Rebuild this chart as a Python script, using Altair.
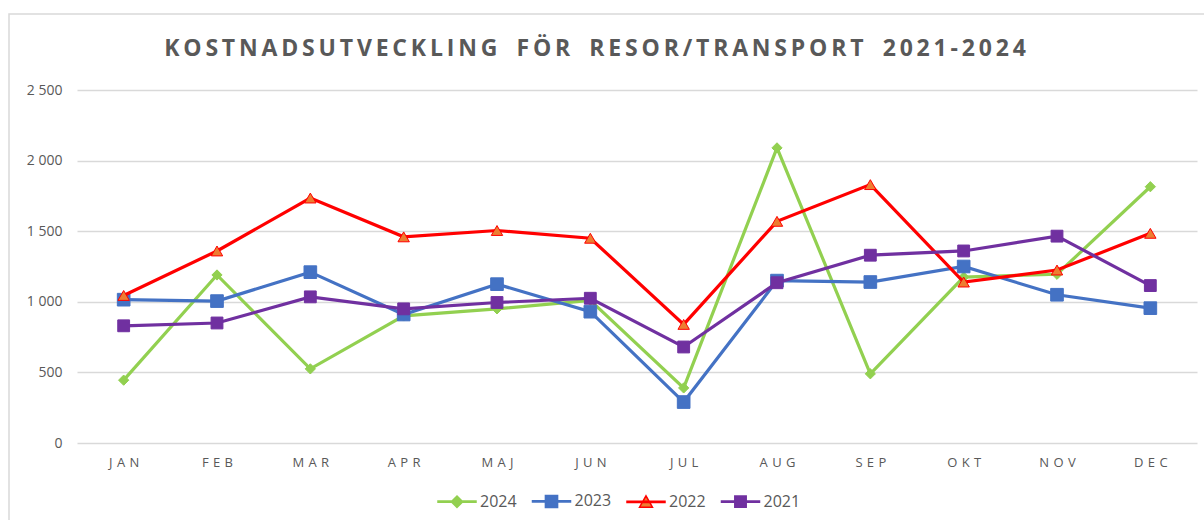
import altair as alt
import pandas as pd

# Monthly travel/transport costs per year
months = ["JAN", "FEB", "MAR", "APR", "MAJ", "JUN", "JUL", "AUG", "SEP", "OKT", "NOV", "DEC"]
years = ["2024", "2023", "2022", "2021"]
v2024 = [445, 1190, 525, 900, 950, 1010, 390, 2090, 490, 1175, 1195, 1815]
v2023 = [1015, 1005, 1210, 910, 1125, 930, 290, 1150, 1140, 1250, 1050, 955]
v2022 = [1045, 1360, 1735, 1460, 1505, 1450, 840, 1570, 1830, 1140, 1225, 1485]
v2021 = [830, 850, 1035, 950, 995, 1025, 680, 1135, 1330, 1360, 1465, 1115]

series = {"2024": v2024, "2023": v2023, "2022": v2022, "2021": v2021}
rows = [{"month": m, "year": y, "cost": v}
        for y in years for m, v in zip(months, series[y])]
df = pd.DataFrame(rows)

TITLE = "KOSTNADSUTVECKLING FÖR RESOR/TRANSPORT 2021-2024"
GREY = "#595959"
GRID = "#d9d9d9"
FONT = "Open Sans"

line_color = {"2024": "#92D050", "2023": "#4472C4", "2022": "#FF0000", "2021": "#7030A0"}
marker_fill = {"2024": "#92D050", "2023": "#4472C4", "2022": "#ED7D31", "2021": "#7030A0"}
marker_shape = {"2024": "diamond", "2023": "square", "2022": "triangle-up", "2021": "square"}
marker_size = {"2024": 105, "2023": 160, "2022": 130, "2021": 140}

# legend glyphs: a short line segment with the series marker on top
seg = "M-1,-0.035H1V0.035H-1Z"
legend_shapes = [
    seg + "M0,-0.3L0.3,0L0,0.3L-0.3,0Z",
    seg + "M-0.32,-0.32H0.32V0.32H-0.32Z",
    seg + "M0,-0.32L0.34,0.28H-0.34Z",
    seg + "M-0.3,-0.3H0.3V0.3H-0.3Z",
]

# letter-spaced title text (thin spaces between letters, wider gap between words)
sp = "\u2009"
title_text = (sp + "\u2002" + sp).join(sp.join(word) for word in TITLE.split(" "))

x_enc = alt.X(
    "month:N",
    sort=months,
    scale=alt.Scale(paddingInner=0, paddingOuter=0),
    axis=alt.Axis(
        title=None, labelAngle=0, ticks=False, domain=False, grid=False,
        labelColor=GREY, labelFontSize=13, labelFont=FONT, labelPadding=13,
        labelExpr="join(split(datum.label, ''), '\u2004')",
    ),
)
y_enc = alt.Y(
    "cost:Q",
    scale=alt.Scale(domain=[0, 2500]),
    axis=alt.Axis(
        title=None, values=[0, 500, 1000, 1500, 2000, 2500], ticks=False, domain=False,
        gridColor=GRID, gridWidth=1.3, labelColor=GREY, labelFontSize=14, labelFont=FONT,
        labelPadding=15, labelExpr="replace(format(datum.value, ','), ',', ' ')",
    ),
)

legend = alt.Legend(
    title=None, orient="none", legendX=360, legendY=391, direction="horizontal",
    symbolSize=1444, symbolStrokeWidth=1.5, labelFontSize=16, labelColor=GREY,
    labelFont=FONT, labelOffset=3, columnPadding=12.5,
)

base = alt.Chart(df)

# outer frame of the chart
frame = alt.Chart(pd.DataFrame({"a": [0]})).mark_rect(
    fillOpacity=0, stroke=GRID, strokeWidth=1.5
).encode(x=alt.value(-68), x2=alt.value(1200), y=alt.value(-76), y2=alt.value(520))

layers = [frame]
for y in years:
    sub = base.transform_filter(alt.datum.year == y)
    layers.append(sub.mark_line(color=line_color[y], strokeWidth=3.2).encode(x=x_enc, y=y_enc))
    layers.append(
        sub.mark_point(
            shape=marker_shape[y], size=marker_size[y], filled=True, opacity=1,
            fill=marker_fill[y], stroke=line_color[y], strokeWidth=1,
        ).encode(x=x_enc, y=y_enc)
    )

legend_layer = base.transform_filter("false").mark_point(filled=True, opacity=1).encode(
    x=x_enc,
    y=y_enc,
    shape=alt.Shape("year:N", scale=alt.Scale(domain=years, range=legend_shapes), legend=legend),
    fill=alt.Fill("year:N", scale=alt.Scale(domain=years, range=[marker_fill[y] for y in years]),
                  legend=legend),
    stroke=alt.Stroke("year:N", scale=alt.Scale(domain=years, range=[line_color[y] for y in years]),
                      legend=legend),
)
layers.append(legend_layer)

title_layer = alt.Chart(pd.DataFrame({"t": [title_text]})).mark_text(
    font=FONT, fontSize=23, fontWeight="bold", color=GREY, align="center", baseline="middle"
).encode(text="t:N", x=alt.value(518), y=alt.value(-41))
layers.append(title_layer)

chart = alt.layer(*layers).properties(
    width=1120,
    height=353,
    background="white",
    autosize=alt.AutoSizeParams(type="none"),
    padding={"left": 77, "top": 90, "right": 7, "bottom": 77},
).configure_view(stroke=None)

chart.save("out.html", embed_options={"renderer": "svg", "actions": False})
